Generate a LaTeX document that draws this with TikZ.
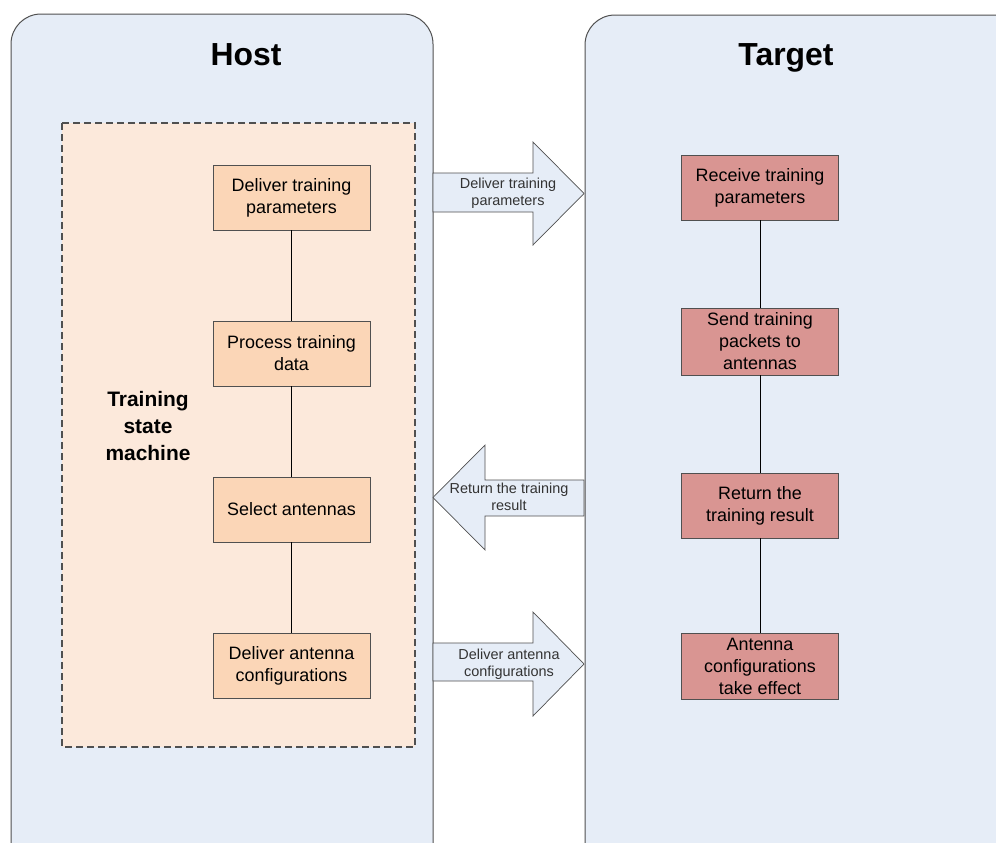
\documentclass[tikz,border=0pt]{standalone}
\usepackage{fontspec}
\setmainfont{Liberation Sans}
\usetikzlibrary{positioning}
\definecolor{panelblue}{RGB}{230,237,247}
\definecolor{stateorange}{RGB}{252,233,219}
\definecolor{hostorange}{RGB}{251,214,183}
\definecolor{targetred}{RGB}{217,149,146}
\definecolor{edgegray}{RGB}{80,80,80}

\begin{document}
\begin{tikzpicture}[x=1bp, y=1bp]
    \tikzstyle{panel} = [draw=edgegray, fill=panelblue, rounded corners=30bp, line width=1bp]
    \tikzstyle{title} = [anchor=base, font=\fontsize{32}{36}\selectfont\bfseries]
    \tikzstyle{hostbox} = [draw=edgegray, fill=hostorange, align=center, minimum width=157bp, minimum height=65bp, inner ysep=5bp, line width=0.9bp, font=\fontsize{18}{22}\selectfont, node distance=156bp]
    \tikzstyle{targetbox} = [hostbox, fill=targetred]
    \tikzstyle{blockarrow} = [draw=edgegray, fill=panelblue, line width=0.7bp]
    \tikzstyle{arrowtext} = [align=center, font=\fontsize{14.5}{17}\selectfont, text=black!80]

    \useasboundingbox (0,0) rectangle (996,-843);

    % panels
    \draw[panel] (11,-14) rectangle (433,-875);
    \draw[panel] (585,-15) rectangle (1030,-875);
    \node[title] (host) at (246,-65) {Host};
    \node[title] (target) at (786,-65) {Target};

    % training state machine
    \draw[draw=edgegray, dash pattern=on 7bp off 4bp, fill=stateorange, line width=1.3bp] (62,-123) rectangle (415,-747);
    \node[align=center, font=\fontsize{21}{27}\selectfont\bfseries] (tsm) at (148,-426) {Training\\state\\machine};

    \node[hostbox] (deliver) at (291.5,-197.5) {Deliver training\\parameters};
    \node[hostbox, below of=deliver] (process) {Process training\\data};
    \node[hostbox, below of=process] (select) {Select antennas};
    \node[hostbox, below of=select] (config) {Deliver antenna\\configurations};

    \node[targetbox] (receive) at (760,-187.5) {Receive training\\parameters};
    \node[targetbox, below of=receive, node distance=154bp] (send) {Send training\\packets to\\antennas};
    \node[targetbox, below of=send, node distance=164bp] (result) {Return the\\training result};
    \node[targetbox, below of=result, node distance=161bp] (effect) {Antenna\\configurations\\take effect};

    \path (deliver) edge (process);
    \path (process) edge (select);
    \path (select) edge (config);
    \path (receive) edge (send);
    \path (send) edge (result);
    \path (result) edge (effect);

    % block arrows between host and target
    \draw[blockarrow] (433,-173) -- (533,-173) -- (533,-142) -- (584,-193.5) -- (533,-245) -- (533,-212) -- (433,-212) -- cycle;
    \draw[blockarrow] (584,-480) -- (485,-480) -- (485,-445) -- (433,-497.5) -- (485,-550) -- (485,-516) -- (584,-516) -- cycle;
    \draw[blockarrow] (433,-643) -- (533,-643) -- (533,-612) -- (584,-664) -- (533,-716) -- (533,-681) -- (433,-681) -- cycle;
    \node[arrowtext] (deliverlabel) at (508,-193) {Deliver training\\parameters};
    \node[arrowtext] (resultlabel) at (509,-497) {Return the training\\result};
    \node[arrowtext] (configlabel) at (509,-664) {Deliver antenna\\configurations};
\end{tikzpicture}
\end{document}
